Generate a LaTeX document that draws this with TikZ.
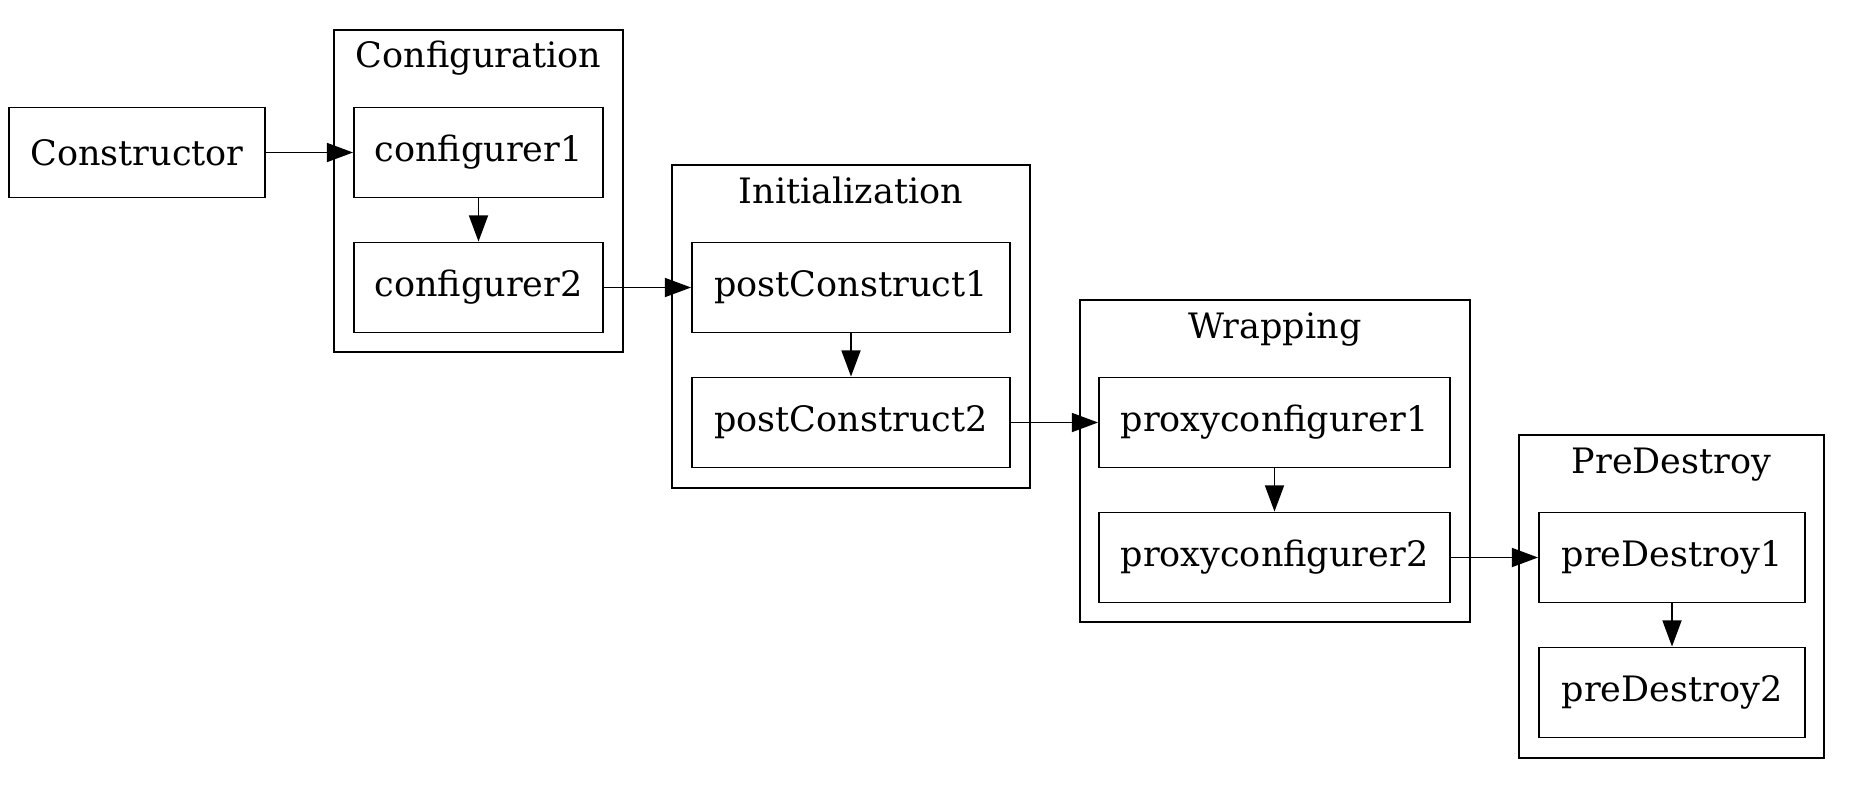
\documentclass[tikz,border=0pt]{standalone}
\usepackage{fontspec}
\setmainfont{DejaVu Serif}
\usetikzlibrary{arrows.meta}

\begin{document}
\begin{tikzpicture}[>={Triangle[length=10.5pt,width=7.6pt]}, x=0.4pt, y=-0.4pt,
    every node/.style={font=\fontsize{14}{17}\selectfont},
    box/.style={draw, line width=0.75pt, minimum height=36pt, inner sep=0pt},
    cluster/.style={draw, line width=0.75pt}]

    % Frame
    \useasboundingbox (0,0) rectangle (1855,788);

    % Clusters
    \draw[cluster] (334,30) rectangle (623,352);
    \node[anchor=base] (conflbl) at (478.5,67) {Configuration};
    \draw[cluster] (672,165) rectangle (1030,488);
    \node[anchor=base] (initlbl) at (851,203) {Initialization};
    \draw[cluster] (1080,300) rectangle (1470,622);
    \node[anchor=base] (wraplbl) at (1275,338) {Wrapping};
    \draw[cluster] (1519,435) rectangle (1824,758);
    \node[anchor=base] (destlbl) at (1671.5,473) {PreDestroy};

    % Stages
    \node[box, minimum width=102.4pt] (ctor) at (137,152.5) {Constructor};
    \node[box, minimum width=99.6pt] (conf1) at (478.5,152.5) {configurer1};
    \node[box, minimum width=99.6pt] (conf2) at (478.5,287.5) {configurer2};
    \node[box, minimum width=127.2pt] (post1) at (851,287.5) {postConstruct1};
    \node[box, minimum width=127.2pt] (post2) at (851,422.5) {postConstruct2};
    \node[box, minimum width=140.4pt] (proxy1) at (1274.5,422.5) {proxyconfigurer1};
    \node[box, minimum width=140.4pt] (proxy2) at (1274.5,557.5) {proxyconfigurer2};
    \node[box, minimum width=106.4pt] (dest1) at (1672,557.5) {preDestroy1};
    \node[box, minimum width=106.4pt] (dest2) at (1672,692.5) {preDestroy2};

    % Flow
    \draw[->, line width=0.75pt] (ctor) -- (conf1);
    \draw[->, line width=0.75pt] (conf1) -- (conf2);
    \draw[->, line width=0.75pt] (conf2) -- (post1);
    \draw[->, line width=0.75pt] (post1) -- (post2);
    \draw[->, line width=0.75pt] (post2) -- (proxy1);
    \draw[->, line width=0.75pt] (proxy1) -- (proxy2);
    \draw[->, line width=0.75pt] (proxy2) -- (dest1);
    \draw[->, line width=0.75pt] (dest1) -- (dest2);

\end{tikzpicture}
\end{document}
